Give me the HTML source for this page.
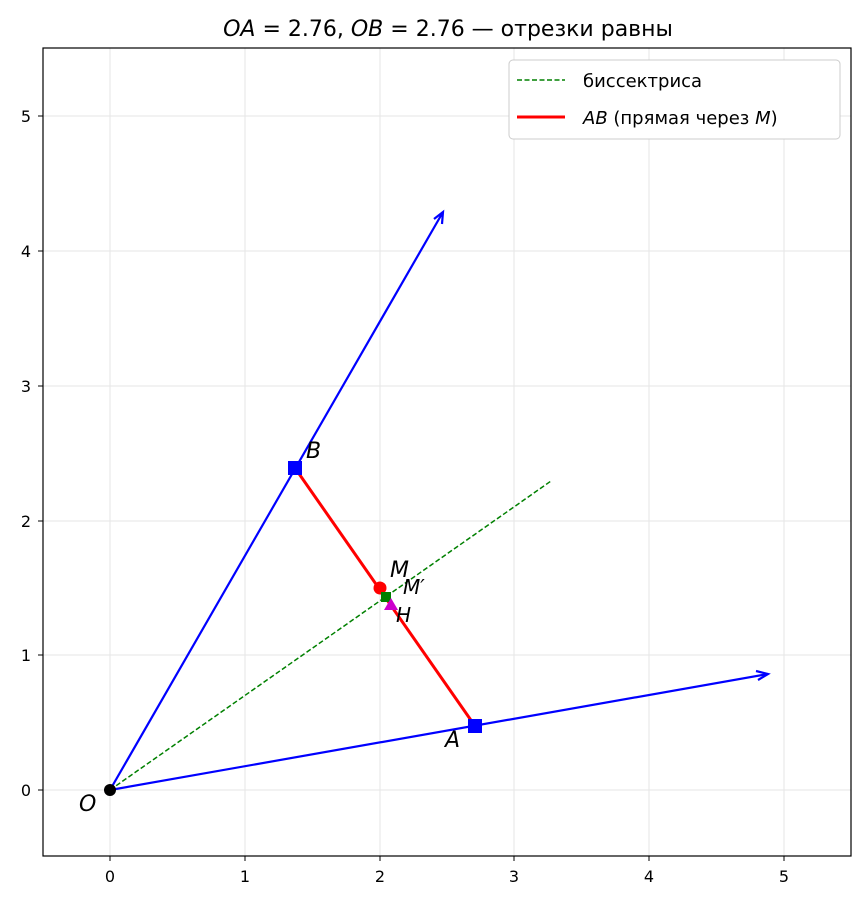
<!DOCTYPE html>
<html><head><meta charset="utf-8"><style>
body{margin:0;background:#fff;}
svg{display:block;font-family:"DejaVu Sans","Liberation Sans",sans-serif;}
</style></head><body>
<svg width="866" height="907" viewBox="0 0 866 907" xmlns="http://www.w3.org/2000/svg">
<rect width="866" height="907" fill="#fff"/>
<g stroke="#e5e5e5" stroke-width="1">
<line x1="110" y1="48" x2="110" y2="856"/><line x1="245" y1="48" x2="245" y2="856"/>
<line x1="380" y1="48" x2="380" y2="856"/><line x1="514" y1="48" x2="514" y2="856"/>
<line x1="649" y1="48" x2="649" y2="856"/><line x1="784" y1="48" x2="784" y2="856"/>
<line x1="43" y1="790" x2="851" y2="790"/><line x1="43" y1="655" x2="851" y2="655"/>
<line x1="43" y1="521" x2="851" y2="521"/><line x1="43" y1="386" x2="851" y2="386"/>
<line x1="43" y1="251" x2="851" y2="251"/><line x1="43" y1="116" x2="851" y2="116"/>
</g>
<g stroke="#000" stroke-width="1">
<line x1="110" y1="856" x2="110" y2="861"/><line x1="245" y1="856" x2="245" y2="861"/>
<line x1="380" y1="856" x2="380" y2="861"/><line x1="514" y1="856" x2="514" y2="861"/>
<line x1="649" y1="856" x2="649" y2="861"/><line x1="784" y1="856" x2="784" y2="861"/>
<line x1="38" y1="790" x2="43" y2="790"/><line x1="38" y1="655" x2="43" y2="655"/>
<line x1="38" y1="521" x2="43" y2="521"/><line x1="38" y1="386" x2="43" y2="386"/>
<line x1="38" y1="251" x2="43" y2="251"/><line x1="38" y1="116" x2="43" y2="116"/>
</g>
<g font-size="16" fill="#000" text-anchor="middle">
<text x="110" y="882">0</text><text x="245" y="882">1</text><text x="380" y="882">2</text>
<text x="514" y="882">3</text><text x="649" y="882">4</text><text x="784" y="882">5</text>
</g>
<g font-size="16" fill="#000" text-anchor="end">
<text x="31" y="796">0</text><text x="31" y="661">1</text><text x="31" y="527">2</text>
<text x="31" y="392">3</text><text x="31" y="257">4</text><text x="31" y="122">5</text>
</g>
<line x1="110" y1="790" x2="551" y2="481" stroke="green" stroke-width="1.5" stroke-dasharray="5,2.5"/>
<g stroke="blue" stroke-width="2.2" fill="none">
<line x1="110" y1="790" x2="768" y2="674"/>
<polyline points="756,671 768,674 758,680"/>
<line x1="110" y1="790" x2="443" y2="212"/>
<polyline points="434,219 443,212 442,224"/>
</g>
<line x1="295" y1="468" x2="475" y2="726" stroke="red" stroke-width="3"/>
<circle cx="110" cy="790" r="6" fill="#000"/>
<rect x="288" y="461" width="14" height="14" fill="blue"/>
<rect x="468" y="719" width="14" height="14" fill="blue"/>
<circle cx="380" cy="588" r="6.5" fill="red"/>
<rect x="381" y="592" width="10" height="10" fill="green"/>
<polygon points="391,598 398,610 384,610" fill="#c0c"/>
<g font-size="22" font-style="italic" fill="#000">
<text x="79" y="811">O</text><text x="306" y="458">B</text><text x="445" y="747">A</text>
<text x="390" y="577">M</text><text x="403" y="594" font-size="20">M′</text><text x="396" y="622" font-size="20">H</text>
</g>
<rect x="43" y="48" width="808" height="808" fill="none" stroke="#000" stroke-width="1.2"/>
<text x="448" y="36" font-size="22" text-anchor="middle"><tspan font-style="italic">OA</tspan> = 2.76, <tspan font-style="italic">OB</tspan> = 2.76 — отрезки равны</text>
<rect x="509" y="60" width="331" height="79" rx="4" fill="#fff" stroke="#ccc"/>
<line x1="517" y1="80" x2="565" y2="80" stroke="green" stroke-width="1.5" stroke-dasharray="5,2.5"/>
<line x1="517" y1="117" x2="565" y2="117" stroke="red" stroke-width="3"/>
<text x="583" y="87" font-size="18">биссектриса</text>
<text x="583" y="124" font-size="18"><tspan font-style="italic">AB</tspan> (прямая через <tspan font-style="italic">M</tspan>)</text>
</svg>
</body></html>
